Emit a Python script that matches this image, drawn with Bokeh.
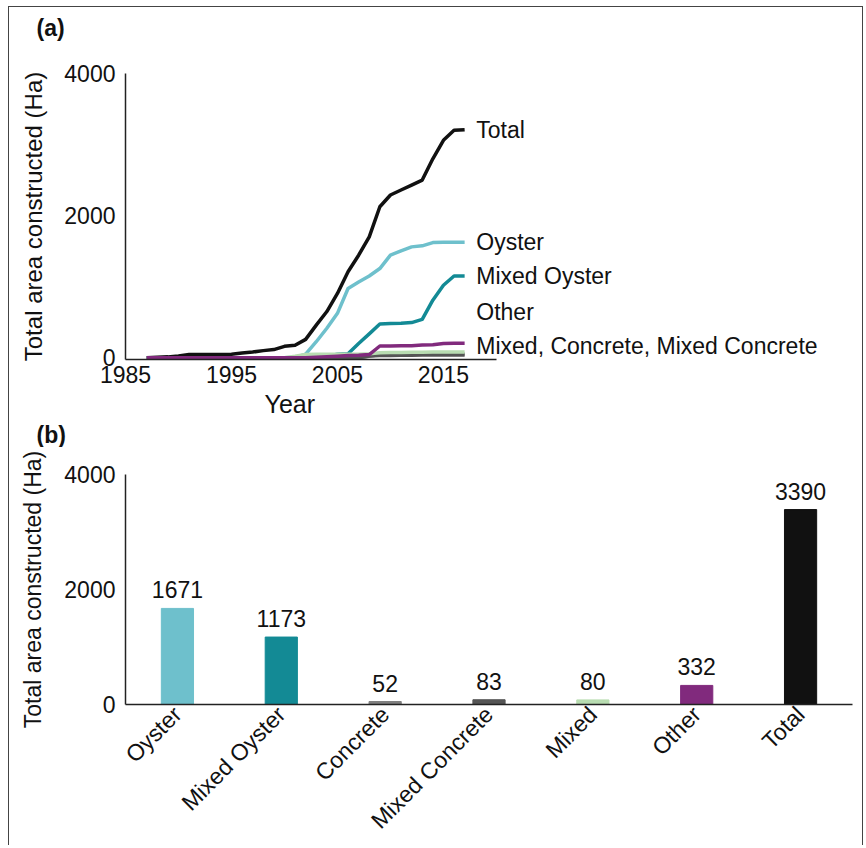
import math

from bokeh.plotting import figure
from bokeh.layouts import column
from bokeh.models import Label, Range1d, FactorRange, ColumnDataSource, Title
from bokeh.embed import file_html
from bokeh.resources import INLINE
from bokeh.core.properties import value

FONT = "Liberation Sans"

# ---- panel (a): cumulative area constructed per year ----
years = list(range(1987, 2018))
total = [0, 5, 12, 25, 45, 45, 45, 45, 50, 66, 80, 100, 115, 160, 175, 258,
         459, 650, 905, 1210, 1443, 1700, 2125, 2290, 2360, 2430, 2500, 2800,
         3060, 3200, 3210]
oyster = [0] * 14 + [5, 50, 225, 415, 625, 975, 1065, 1150, 1255, 1445, 1505,
                     1560, 1575, 1620, 1625, 1625, 1625]
mixed_oyster = [0] * 16 + [5, 20, 50, 55, 200, 335, 475, 480, 485, 495, 540,
                           810, 1020, 1150, 1150]
other = [0] * 16 + [8, 15, 22, 30, 35, 45, 165, 165, 168, 170, 178, 182, 200,
                    202, 202]
mixed = [0] * 14 + [20, 45, 50, 50, 50, 50, 50, 55, 70, 75, 75, 78, 78, 80, 80,
                    80, 80]
concrete = [0] * 21 + [20, 45, 48, 50, 50, 52, 52, 52, 52, 52]
mixed_concrete = [0] * 21 + [25, 30, 30, 35, 35, 40, 40, 40, 40, 40]

year_ticks = [1985, 1995, 2005, 2015]
area_ticks = [0, 2000, 4000]

# ---- panel (b): total area by construction type ----
categories = ["Oyster", "Mixed Oyster", "Concrete", "Mixed Concrete", "Mixed",
              "Other", "Total"]
areas = [1671, 1173, 52, 83, 80, 332, 3390]

C_OYSTER = "#6ec0cc"
C_MIXED_OYSTER = "#138a95"
C_CONCRETE = "#808080"
C_MIXED_CONCRETE = "#555555"
C_MIXED = "#b8dcb1"
C_OTHER = "#812a7d"
C_TOTAL = "#111111"
bar_colors = [C_OYSTER, C_MIXED_OYSTER, C_CONCRETE, C_MIXED_CONCRETE, C_MIXED,
              C_OTHER, C_TOTAL]

TEXT = "#111111"


def style_axes(p):
    for ax in (p.xaxis[0], p.yaxis[0]):
        ax.axis_line_color = "#222222"
        ax.axis_line_width = 1.5
        ax.major_tick_line_color = None
        ax.minor_tick_line_color = None
        ax.major_tick_out = 0
        ax.major_tick_in = 0
        ax.major_label_text_font = FONT
        ax.major_label_text_font_size = "23px"
        ax.major_label_text_color = TEXT
        ax.axis_label_text_font = FONT
        ax.axis_label_text_font_style = "normal"
        ax.axis_label_text_color = TEXT
    p.grid.visible = False
    p.outline_line_color = None


def side_text(text, offset, standoff, size, bold=False):
    # a Title used as free text in the side panels; offset is measured from
    # the left edge of the plotting frame
    return Title(text=text, align="left", offset=offset, standoff=standoff,
                 text_font=FONT, text_font_size=size,
                 text_font_style="bold" if bold else "normal",
                 text_color=TEXT)


# ---------------- panel (a) ----------------
# the frame runs across the full width so the end-of-line names stay visible;
# the x axis itself is bounded to 1985-2020
p1 = figure(width=853, height=440,
            x_range=Range1d(1985, 2053.6), y_range=Range1d(-25, 4000),
            output_backend="svg", toolbar_location=None,
            min_border_left=116, min_border_right=10,
            min_border_top=66, min_border_bottom=88)
style_axes(p1)
# blank spacer between the frame and the panel tag
p1.add_layout(side_text(" ", 0, 6, "22px"), "above")
p1.add_layout(side_text("(a)", -89, 0, "23px", bold=True), "above")
p1.xaxis.bounds = (1985, 2020)
p1.xaxis.ticker = year_ticks
p1.xaxis.major_label_standoff = 6
p1.yaxis.ticker = area_ticks
p1.yaxis.axis_label = "Total area constructed (Ha)"
p1.yaxis.axis_label_text_font_size = "24px"
p1.yaxis.major_label_standoff = 10
p1.yaxis.axis_label_standoff = 14

# x-axis name, centred under the bounded axis, then the tag of panel (b)
p1.add_layout(side_text("Year", 139, 4, "25px"), "below")
p1.add_layout(side_text("(b)", -89, 0, "23px", bold=True), "below")

series = [
    (total, C_TOTAL),
    (oyster, C_OYSTER),
    (mixed_oyster, C_MIXED_OYSTER),
    (concrete, C_CONCRETE),
    (mixed_concrete, C_MIXED_CONCRETE),
    (mixed, C_MIXED),
    (other, C_OTHER),
]
for vals, col in series:
    p1.line(years, vals, line_color=col, line_width=3.5, line_join="round")

label_x = 2018.1
end_labels = [
    ("Total", total[-1]),
    ("Oyster", oyster[-1]),
    ("Mixed Oyster", mixed_oyster[-1]),
    ("Other", 643),
    ("Mixed, Concrete, Mixed Concrete", 165),
]
for txt, yv in end_labels:
    p1.add_layout(Label(x=label_x, y=yv, text=txt, text_font=FONT,
                        text_font_size="23px", text_color=TEXT,
                        text_baseline="middle", text_align="left"))

# ---------------- panel (b) ----------------
src = ColumnDataSource(dict(cat=categories, area=areas, color=bar_colors,
                            label=[str(v) for v in areas]))
p2 = figure(width=853, height=398,
            x_range=FactorRange(factors=categories), y_range=Range1d(0, 4000),
            output_backend="svg", toolbar_location=None,
            min_border_left=116, min_border_right=10,
            min_border_top=27, min_border_bottom=140)
style_axes(p2)
p2.yaxis.ticker = area_ticks
p2.yaxis.axis_label = "Total area constructed (Ha)"
p2.yaxis.axis_label_text_font_size = "23px"
p2.yaxis.major_label_standoff = 10
p2.yaxis.axis_label_standoff = 15
p2.xaxis.major_label_orientation = math.pi / 4
p2.xaxis.major_label_standoff = 6

p2.vbar(x="cat", top="area", width=0.31, color="color", source=src)
p2.text(x="cat", y="area", text="label", source=src, y_offset=-10,
        text_font=value(FONT), text_font_size="23px", text_color=TEXT,
        text_align="center", text_baseline="bottom")

layout = column(p1, p2, margin=(6, 0, 0, 8),
                styles={"border-top": "1.5px solid #444444",
                        "border-left": "1.5px solid #444444",
                        "border-right": "1.5px solid #444444"})

open("out.html", "w").write(file_html(layout, INLINE))
